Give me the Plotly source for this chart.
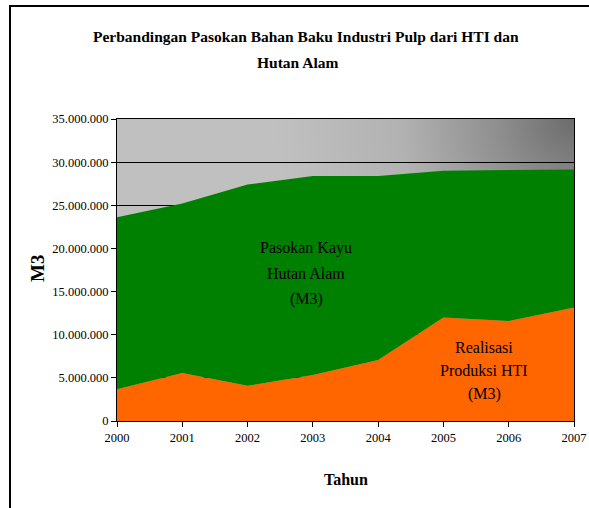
import base64
import plotly.graph_objects as go

years = [2000, 2001, 2002, 2003, 2004, 2005, 2006, 2007]
hti = [3670000, 5550000, 4080000, 5330000, 7070000, 12000000, 11600000, 13150000]
hutan_alam = [19930000, 19650000, 23320000, 23070000, 21330000, 17000000, 17500000, 16000000]
y_ticks = [0, 5000000, 10000000, 15000000, 20000000, 25000000, 30000000, 35000000]

FONT = "Liberation Serif"

# Gradient background for plot area
svg = (
    '<svg xmlns="http://www.w3.org/2000/svg" width="457" height="302" viewBox="0 0 457 302">'
    '<defs><radialGradient id="g" gradientUnits="userSpaceOnUse" cx="457" cy="0" r="300">'
    '<stop offset="0" stop-color="#6c6c6c"/>'
    '<stop offset="0.25" stop-color="#8e8e8e"/>'
    '<stop offset="0.58" stop-color="#b2b2b2"/>'
    '<stop offset="0.9" stop-color="#bdbdbd"/>'
    '<stop offset="1" stop-color="#c0c0c0"/>'
    '</radialGradient></defs>'
    '<rect width="457" height="302" fill="#c0c0c0"/>'
    '<rect width="457" height="302" fill="url(#g)"/></svg>'
)
src = "data:image/svg+xml;base64," + base64.b64encode(svg.encode()).decode()

fig = go.Figure()
fig.add_trace(go.Scatter(
    x=years, y=hti, mode="lines", stackgroup="one",
    line=dict(width=0, color="#ff6600"), fillcolor="#ff6600",
    name="Realisasi Produksi HTI (M3)", hoverinfo="x+y"))
fig.add_trace(go.Scatter(
    x=years, y=hutan_alam, mode="lines", stackgroup="one",
    line=dict(width=0, color="#008000"), fillcolor="#008000",
    name="Pasokan Kayu Hutan Alam (M3)", hoverinfo="x+y"))

L, R, T, B = 117, 15, 119, 87
W, H = 589, 508
pw = W - L - R
ph = H - T - B

def px(xp):
    return (xp - L) / pw

def py(yp):
    return (H - B - yp) / ph

ann = []
def text(s, x, y, size, bold=False, angle=0):
    ann.append(dict(
        text=("<b>%s</b>" % s) if bold else s,
        x=px(x), y=py(y), xref="paper", yref="paper",
        xanchor="center", yanchor="middle", showarrow=False, textangle=angle,
        font=dict(family=FONT, size=size, color="black")))

text("Perbandingan Pasokan Bahan Baku Industri Pulp dari HTI dan", 306, 37, 15.5, True)
text("Hutan Alam", 297, 62, 15.5, True)
text("Pasokan Kayu", 306, 248, 16)
text("Hutan Alam", 306, 273, 16)
text("(M3)", 306, 299, 16)
text("Realisasi", 484, 347, 16)
text("Produksi HTI", 484, 370, 16)
text("(M3)", 484, 394, 16)
text("M3", 37, 269, 19, True, -90)
text("Tahun", 346, 479, 16, True)

shapes = [
    dict(type="line", xref="paper", yref="paper", x0=px(10), x1=px(10), y0=py(6), y1=py(510),
         line=dict(color="black", width=2)),
    dict(type="line", xref="paper", yref="paper", x0=px(9), x1=px(592), y0=py(6), y1=py(6),
         line=dict(color="black", width=2)),
]

fig.update_layout(
    width=W, height=H, autosize=False,
    margin=dict(l=L, r=R, t=T, b=B),
    paper_bgcolor="white", plot_bgcolor="rgba(0,0,0,0)",
    showlegend=False,
    separators=",.",
    font=dict(family=FONT, size=12, color="black"),
    annotations=ann, shapes=shapes,
    images=[dict(source=src, xref="paper", yref="paper", x=0, y=1, sizex=1, sizey=1,
                 xanchor="left", yanchor="top", sizing="stretch", layer="below")],
    xaxis=dict(range=[2000, 2007], tickmode="array", tickvals=years,
               ticktext=[str(y) for y in years], automargin=False,
               showgrid=False, zeroline=False, showline=True, linecolor="black", linewidth=1,
               mirror=True, ticks="outside", ticklen=5, tickcolor="black",
               tickfont=dict(family=FONT, size=12.5, color="black")),
    yaxis=dict(range=[0, 35000000], tickmode="array", tickvals=y_ticks, automargin=False,
               tickformat=",d", showgrid=True, gridcolor="black", gridwidth=1,
               zeroline=False, showline=True, linecolor="black", linewidth=1, mirror=True,
               ticks="outside", ticklen=5, tickcolor="black",
               tickfont=dict(family=FONT, size=12.5, color="black")),
)

fig.write_html(
    "out.html",
    config={"responsive": False, "displayModeBar": False},
    post_script="document.body.style.margin='0';document.body.style.overflow='hidden';",
)
